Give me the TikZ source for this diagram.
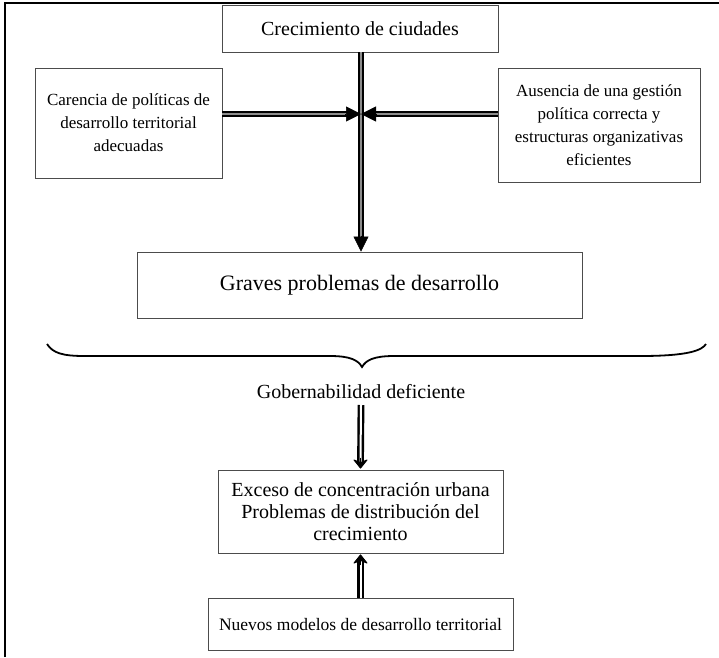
\documentclass[tikz,border=0pt]{standalone}
\usepackage{fontspec}
\setmainfont{Liberation Serif}
\usetikzlibrary{arrows.meta}
\tikzset{
  box/.style={draw=black!70, line width=0.9pt, align=center, inner sep=0pt},
  big/.style={font=\fontsize{20}{22}\selectfont},
  small/.style={font=\fontsize{17}{23}\selectfont},
  dblout/.style={line width=6pt, black},
  dblin/.style={line width=2pt, black!45},
  tipA/.style={-{Triangle[length=15pt,width=15pt]}},
  lowout/.style={draw=black, line width=2.4pt, double=white, double distance=2pt},
  tipB/.style={-{Stealth[length=10pt,width=16pt,round]}, line width=1pt},
}
\begin{document}
\begin{tikzpicture}[x=1pt,y=-1pt]
\useasboundingbox (0,0) rectangle (719,657);
\draw[line width=1.6pt] (5,657) -- (5,3) -- (719,3);

\node[box,big,minimum width=276pt,minimum height=47pt] (top) at (360,28.5) {Crecimiento de ciudades};
\node[box,small,minimum width=187pt,minimum height=110pt] (left) at (128.5,123) {Carencia de políticas de\\desarrollo territorial\\adecuadas};
\node[box,small,minimum width=202pt,minimum height=114pt] (right) at (599,125) {Ausencia de una gestión\\política correcta y\\estructuras organizativas\\eficientes};
\node[box,minimum width=445pt,minimum height=66pt,font=\fontsize{22}{24}\selectfont] (graves) at (359.5,285) {Graves problemas de desarrollo};
\node[big] (gob) at (361,392) {Gobernabilidad deficiente};
\node[box,big,minimum width=285pt,minimum height=83pt] (exceso) at (360.5,511.5) {Exceso de concentración urbana\\Problemas de distribución del\\crecimiento};
\node[box,minimum width=305pt,minimum height=52pt,font=\fontsize{17.5}{20}\selectfont] (nuevos) at (360.5,624) {Nuevos modelos de desarrollo territorial};

\coordinate (mid) at (361,114);
% vertical main arrow
\draw[dblout] (top.south -| mid) -- ([yshift=14pt]graves.north -| mid);
\draw[dblin] (top.south -| mid) -- ([yshift=14pt]graves.north -| mid);
\draw[tipA, line width=0.5pt] ([yshift=16pt]graves.north -| mid) -- (graves.north -| mid);
% horizontal arrows
\draw[dblout] (left.east |- mid) -- ([xshift=-14pt]mid);
\draw[dblin] (left.east |- mid) -- ([xshift=-14pt]mid);
\draw[tipA, line width=0.5pt] ([xshift=-16pt]mid) -- (mid);
\draw[dblout] (right.west |- mid) -- ([xshift=14pt]mid);
\draw[dblin] (right.west |- mid) -- ([xshift=14pt]mid);
\draw[tipA, line width=0.5pt] ([xshift=16pt]mid) -- (mid);

% brace
\draw[line width=1.8pt] (47,344) .. controls (53,353) and (62,356) .. (85,356) -- (330,356) .. controls (350,356) and (358,360) .. (362,367) .. controls (366,360) and (374,356) .. (394,356) -- (640,356) .. controls (690,356) and (702,350) .. (706,344);

% lower arrows
\coordinate (gobend) at (361,405);
\draw[lowout] (gobend) -- ([yshift=7pt]exceso.north);
\draw[tipB] ([yshift=12pt]exceso.north) -- ([yshift=1pt]exceso.north);
\draw[lowout] (nuevos.north) -- ([yshift=-7pt]exceso.south);
\draw[tipB] ([yshift=-12pt]exceso.south) -- ([yshift=-1pt]exceso.south);
\end{tikzpicture}
\end{document}
